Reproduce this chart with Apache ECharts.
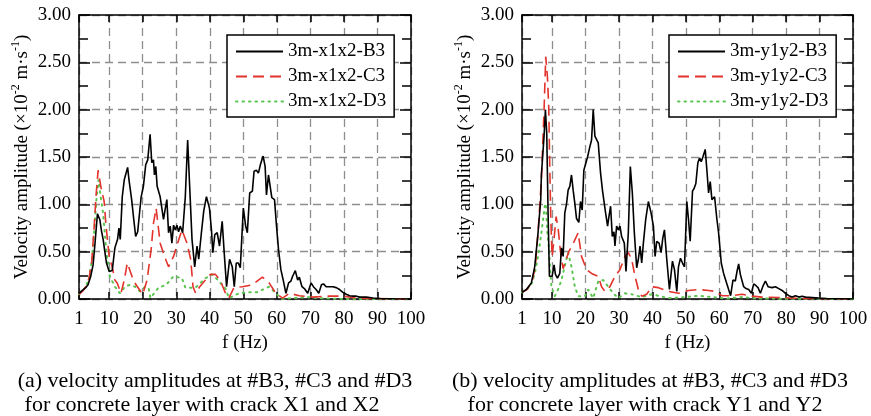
<!DOCTYPE html>
<html>
<head>
<meta charset="utf-8">
<script src="https://cdn.jsdelivr.net/npm/echarts@6/dist/echarts.min.js"></script>
<style>
  html, body { margin: 0; padding: 0; background: #fff; }
  #main { width: 871px; height: 416px; }
</style>
</head>
<body>
<div id="main"></div>
<script>
// [f (Hz), velocity amplitude (x10^-2 m/s)]
var x1x2B3 = [[1,0.06],[2,0.09],[3,0.12],[3.7,0.15],[4.5,0.24],[5.2,0.36],[5.8,0.6],[6.5,0.9],[7.2,0.84],[7.7,0.72],[8.2,0.63],[8.7,0.5],[9.2,0.38],[10,0.29],[10.9,0.3],[11.7,0.54],[12.5,0.63],[12.9,0.75],[13.3,0.63],[13.9,1.08],[14.5,1.26],[15,1.28],[15.5,1.39],[15.9,1.26],[16.7,1.05],[17.3,0.85],[17.9,0.66],[18.5,0.71],[19,0.7],[19.5,1.07],[20.2,1.19],[20.9,1.42],[21.5,1.47],[22.2,1.74],[22.7,1.44],[23.2,1.47],[23.5,1.31],[23.9,1.4],[24.3,1.19],[25.2,1.08],[26.2,0.84],[26.7,0.95],[27.2,1.05],[27.7,0.7],[28.2,0.77],[28.7,0.59],[29.2,0.78],[29.7,0.73],[30.2,0.78],[30.7,0.71],[31.2,0.77],[31.9,0.7],[32.7,1.08],[33.4,1.68],[34,1.19],[34.7,0.63],[35.5,0.34],[36.2,0.56],[36.7,0.42],[37.5,0.7],[38.2,0.93],[39,1.08],[39.9,0.96],[40.5,0.73],[40.9,0.49],[41.5,0.68],[42.2,0.7],[42.9,0.56],[43.7,0.82],[44.3,0.49],[45,0.13],[45.9,0.42],[46.7,0.34],[47.3,0.13],[47.9,0.38],[48.5,0.38],[49.1,0.33],[50,0.96],[50.7,0.77],[51.2,0.7],[51.9,1.12],[52.7,1.14],[53.2,1.35],[53.9,1.36],[54.5,1.33],[55.1,1.42],[55.9,1.51],[56.5,1.4],[56.9,1.1],[57.5,1.31],[58,1.29],[58.5,1.07],[59.3,1.05],[59.9,0.77],[60.5,0.52],[61.2,0.31],[61.9,0.2],[62.7,0.06],[63.5,0.17],[64.2,0.19],[64.7,0.24],[65.5,0.3],[66.2,0.2],[66.7,0.23],[67.5,0.13],[68.2,0.11],[69.2,0.06],[70.2,0.17],[70.9,0.13],[71.7,0.1],[72.5,0.06],[73.3,0.15],[73.9,0.16],[74.7,0.13],[75.7,0.13],[76.7,0.13],[77.7,0.12],[78.7,0.1],[79.7,0.07],[80.7,0.05],[81.7,0.035],[82.7,0.03],[83.7,0.03],[84.7,0.02],[86.7,0.02],[88.7,0.01],[90.7,0.005],[95,0.002],[100,0]];
var x1x2C3 = [[1,0.05],[2,0.08],[3,0.13],[4,0.22],[4.8,0.4],[5.5,0.75],[6.1,1.1],[6.7,1.36],[7.5,1.19],[8.5,1.03],[9,0.8],[9.5,0.62],[10,0.45],[10.9,0.34],[11.7,0.2],[12.4,0.17],[13.5,0.06],[14.5,0.2],[15.4,0.38],[16.9,0.23],[18,0.15],[19,0.1],[20,0.05],[21.3,0.2],[22.5,0.52],[23.2,0.8],[24,0.96],[25.2,0.59],[26.5,0.45],[27.7,0.34],[29.2,0.45],[30.5,0.6],[31.7,0.73],[33.2,0.59],[34.3,0.42],[35,0.13],[35.8,0.06],[37,0.13],[38.7,0.2],[40.2,0.26],[41.7,0.26],[43.2,0.19],[44.7,0.06],[45.7,0.01],[47.2,0.12],[49.7,0.13],[52.7,0.15],[55.7,0.23],[57.7,0.17],[59.7,0.06],[61.7,0.01],[63.7,0.06],[66.7,0.035],[70.7,0.02],[74.7,0.03],[79.7,0.03],[82.7,0.015],[86,0.005],[100,0]];
var x1x2D3 = [[1,0.05],[2,0.08],[3,0.13],[4,0.22],[4.8,0.4],[5.5,0.7],[6.2,1.05],[6.8,1.26],[7.4,1.1],[8.2,0.9],[9.2,0.49],[10.2,0.24],[11.7,0.13],[13.2,0.06],[14.7,0.13],[16.2,0.15],[17.7,0.13],[19.2,0.08],[20.7,0.13],[21.8,0.11],[22.3,0.01],[24.7,0.12],[27,0.15],[29.2,0.24],[31.7,0.22],[32.7,0.12],[35.7,0.12],[38.7,0.22],[40.7,0.26],[42.7,0.19],[44.7,0.11],[45.7,0.01],[48.7,0.06],[51,0.07],[54,0.07],[57.7,0.13],[59.7,0.06],[61.5,0],[65,0.01],[69,0.02],[72,0.01],[80,0],[100,0]];

var y1y2B3 = [[1,0.07],[2.3,0.1],[3.8,0.17],[4.8,0.34],[5.8,0.7],[6.6,1.05],[6.8,1.31],[7.3,1.33],[7.6,1.72],[8,2.0],[8.4,1.75],[8.8,0.91],[9.2,0.24],[10,0.24],[10.6,0.36],[11,0.26],[11.6,0.22],[12.3,0.27],[12.8,0.54],[13.3,0.45],[13.8,0.91],[14.3,1.0],[14.8,1.15],[15.3,1.19],[15.8,1.31],[16.3,1.15],[16.8,1.01],[17.3,0.85],[18,0.81],[18.5,1.03],[19,0.94],[19.5,1.36],[20,1.35],[20.6,1.5],[21.3,1.61],[21.8,1.68],[22.3,2.0],[22.8,1.72],[23.3,1.72],[23.8,1.65],[24.5,1.33],[25.1,1.14],[25.6,1.12],[26,0.91],[26.6,0.77],[27,0.87],[27.5,0.98],[28,0.66],[28.5,0.71],[28.8,0.56],[29.3,0.77],[29.8,0.73],[30.3,0.77],[30.8,0.66],[31.6,0.59],[32.1,0.29],[32.8,0.7],[33.4,1.4],[34,1.12],[34.6,0.7],[35.3,0.33],[35.8,0.42],[36.3,0.56],[36.8,0.38],[37.3,0.59],[38,0.84],[38.8,1.03],[39.6,0.91],[40.3,0.77],[40.8,0.45],[41.3,0.61],[42,0.59],[42.6,0.49],[43.1,0.64],[43.6,0.73],[44.3,0.42],[45.1,0.1],[46,0.4],[46.6,0.31],[47.3,0.08],[47.8,0.34],[48.4,0.43],[49,0.38],[49.6,0.34],[50.3,1.03],[50.8,0.84],[51.3,0.61],[52,1.14],[52.5,1.17],[53,1.22],[53.6,1.44],[54.1,1.49],[54.6,1.45],[55.1,1.5],[55.8,1.58],[56.3,1.36],[56.8,1.12],[57.3,1.24],[57.8,1.05],[58.6,1.08],[59.3,0.84],[59.8,0.7],[60.6,0.38],[61.3,0.27],[62,0.19],[62.8,0.1],[63.4,0.035],[64.1,0.2],[64.8,0.19],[65.3,0.29],[65.8,0.37],[66.3,0.26],[66.8,0.26],[67.3,0.13],[68,0.11],[68.8,0.1],[69.6,0.06],[70.3,0.16],[71,0.14],[71.6,0.12],[72.3,0.06],[73,0.13],[73.8,0.19],[74.6,0.13],[75.8,0.12],[76.8,0.13],[77.8,0.11],[78.8,0.09],[79.8,0.06],[80.8,0.035],[81.8,0.02],[82.8,0.035],[83.8,0.02],[84.8,0.03],[85.8,0.02],[87.8,0.015],[89.8,0.01],[92,0.005],[100,0]];
var y1y2C3 = [[1,0.07],[2.5,0.1],[4,0.18],[5,0.35],[5.8,0.7],[6.8,1.26],[7.6,2.0],[8.1,2.56],[8.6,2.35],[9,2.03],[9.3,1.4],[9.6,0.87],[10,0.45],[10.5,0.6],[11.2,0.87],[11.8,0.75],[12.5,0.5],[13.3,0.32],[14,0.4],[15,0.5],[16.5,0.6],[17.8,0.7],[18.8,0.45],[20.3,0.31],[21.8,0.27],[23.8,0.24],[24.8,0.13],[25.8,0.08],[27.3,0.13],[28.8,0.24],[30.3,0.31],[31.8,0.45],[32.8,0.49],[33.8,0.42],[34.8,0.24],[35.8,0.1],[36.8,0.03],[38.3,0.05],[39.8,0.13],[41.8,0.12],[44.8,0.08],[47.8,0.06],[50.8,0.09],[53.8,0.1],[56.8,0.09],[58.8,0.08],[60.8,0.035],[63.8,0.035],[66.8,0.05],[69.8,0.03],[72.8,0.02],[78.8,0.015],[85,0.005],[100,0]];
var y1y2D3 = [[1,0.07],[2.5,0.1],[4,0.17],[5,0.3],[5.8,0.45],[6.8,0.7],[7.8,0.98],[8.1,1.01],[8.6,0.7],[9,0.56],[9.3,0.38],[9.8,0.13],[10.8,0.03],[11.8,0.1],[12.8,0.2],[13.8,0.35],[14.8,0.49],[15.8,0.34],[16.8,0.13],[17.8,0.03],[19.8,0.03],[20.8,0.1],[22.3,0.01],[23.8,0.19],[25.3,0.2],[26.8,0.13],[28.3,0.06],[29.8,0.01],[31.8,0.06],[33.8,0.05],[36.8,0.02],[39.8,0.05],[44.8,0.01],[49.8,0.02],[53.8,0.035],[57.8,0.02],[62,0.005],[66.8,0.02],[72,0.005],[100,0]];

var namesX = ['3m-x1x2-B3', '3m-x1x2-C3', '3m-x1x2-D3'];
var namesY = ['3m-y1y2-B3', '3m-y1y2-C3', '3m-y1y2-D3'];
var captions = [
  ['(a) velocity amplitudes at #B3, #C3 and #D3', 'for concrete layer with crack X1 and X2'],
  ['(b) velocity amplitudes at #B3, #C3 and #D3', 'for concrete layer with crack Y1 and Y2']
];

var FONT = 'Liberation Serif';
var black = '#000';
var red = '#e2332c';
var green = '#5cc552';

function xAxes(g) {
  var base = {
    type: 'value', gridIndex: g, min: 1, max: 100, splitNumber: 10,
    axisLine: { show: true, onZero: false, lineStyle: { color: black, width: 1.5 } },
    axisTick: { show: true, inside: true, length: 7, lineStyle: { color: black, width: 1.5 } }
  };
  var bottom = Object.assign({}, base, {
    position: 'bottom',
    name: 'f (Hz)', nameLocation: 'middle', nameGap: 30,
    nameTextStyle: { fontFamily: FONT, fontSize: 19, color: black },
    axisLabel: { fontFamily: FONT, fontSize: 19, color: black, margin: 11 },
    splitLine: { show: true, lineStyle: { color: '#8e8e8e', width: 1.3, type: [8, 5] } }
  });
  var top = Object.assign({}, base, {
    position: 'top', axisLabel: { show: false }, splitLine: { show: false }
  });
  return [bottom, top];
}

function yAxes(g) {
  var base = {
    type: 'value', gridIndex: g, min: 0, max: 3, interval: 0.5,
    axisLine: { show: true, onZero: false, lineStyle: { color: black, width: 1.5 } },
    axisTick: { show: true, inside: true, length: 11, lineStyle: { color: black, width: 1.5 } },
    minorTick: { show: true, splitNumber: 2, length: 9, lineStyle: { color: black, width: 1.5 } }
  };
  var left = Object.assign({}, base, {
    position: 'left',
    name: 'Velocity amplitude (×10{sup|-2} m·s{sup|-1})',
    nameLocation: 'middle', nameGap: 44,
    nameTextStyle: {
      fontFamily: FONT, fontSize: 19, color: black, lineHeight: 24,
      rich: { sup: { fontFamily: FONT, fontSize: 12, color: black, verticalAlign: 'top', lineHeight: 24 } }
    },
    axisLabel: { fontFamily: FONT, fontSize: 19, color: black, margin: 8, formatter: function (v) { return v.toFixed(2); } },
    splitLine: { show: true, lineStyle: { color: '#8e8e8e', width: 1.3, type: [8, 5] } }
  });
  var right = Object.assign({}, base, {
    position: 'right', axisLabel: { show: false }, splitLine: { show: false }
  });
  return [left, right];
}

function lines(names, data, g) {
  var styles = [
    { color: black, width: 1.6, type: 'solid' },
    { color: red, width: 1.6, type: [11, 6] },
    { color: green, width: 2, type: [1.5, 5], cap: 'round' }
  ];
  return names.map(function (n, i) {
    return {
      name: n, type: 'line', xAxisIndex: g * 2, yAxisIndex: g * 2,
      data: data[i], symbol: 'none', z: 3 - i,
      lineStyle: styles[i], itemStyle: { color: styles[i].color }
    };
  });
}

function legend(names, left) {
  return {
    data: names, orient: 'vertical', left: left, top: 35,
    backgroundColor: '#fff', borderColor: black, borderWidth: 1.5,
    padding: [7, 8, 6, 8], itemGap: 6, itemWidth: 47, itemHeight: 14,
    itemStyle: { opacity: 0 },
    textStyle: { fontFamily: FONT, fontSize: 19, color: black }
  };
}

function caption(text, x, y) {
  return {
    type: 'text', x: x, y: y,
    style: { text: text, fill: black, font: '22px "Liberation Serif"', align: 'center', verticalAlign: 'middle' }
  };
}

echarts.init(document.getElementById('main')).setOption({
  animation: false,
  backgroundColor: '#fff',
  grid: [
    { left: 79, width: 332, top: 15, height: 284 },
    { left: 522, width: 331, top: 15, height: 284 }
  ],
  xAxis: xAxes(0).concat(xAxes(1)),
  yAxis: yAxes(0).concat(yAxes(1)),
  legend: [legend(namesX, 227), legend(namesY, 669)],
  series: lines(namesX, [x1x2B3, x1x2C3, x1x2D3], 0).concat(lines(namesY, [y1y2B3, y1y2C3, y1y2D3], 1)),
  graphic: [
    caption(captions[0][0], 215, 381),
    caption(captions[0][1], 202, 405),
    caption(captions[1][0], 650, 381),
    caption(captions[1][1], 645, 405)
  ]
});
</script>
</body>
</html>
